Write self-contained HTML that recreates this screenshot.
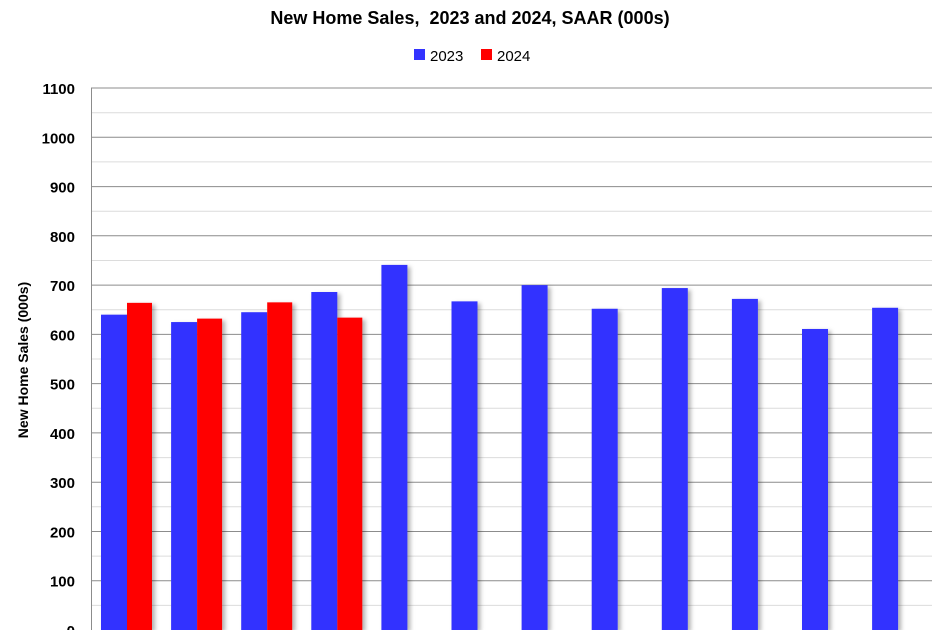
<!DOCTYPE html>
<html><head><style>body{margin:0;background:#fff}svg{display:block;font-family:"Liberation Sans",Arial,sans-serif}</style></head><body>
<svg width="941" height="630" xmlns="http://www.w3.org/2000/svg">
<defs><filter id="sh" x="-20%" y="-5%" width="150%" height="120%"><feDropShadow dx="3" dy="2" stdDeviation="2" flood-color="#000" flood-opacity="0.3"/></filter></defs>
<text x="470" y="24" text-anchor="middle" font-size="18" font-weight="bold" fill="#000">New Home Sales,&#160; 2023 and 2024, SAAR (000s)</text>
<rect x="414" y="49" width="11" height="11" fill="#3333ff"/><text x="430" y="61" font-size="15">2023</text>
<rect x="481" y="49" width="11" height="11" fill="#ff0000"/><text x="497" y="61" font-size="15">2024</text>
<g id="g"></g>
<text transform="translate(28,360) rotate(-90)" text-anchor="middle" font-size="14" font-weight="bold">New Home Sales (000s)</text>
</svg>
<script>
const g=document.getElementById('g');let s='';
const Y=v=>630-v*0.4927;
for(let v=50;v<=1100;v+=50){const y=Y(v).toFixed(1);s+=`<line x1="91" x2="932" y1="${y}" y2="${y}" stroke="${v%100?'#dcdcdc':'#8c8c8c'}" stroke-width="1"/>`;if(v%100==0)s+=`<text x="75" y="${(+y+6)}" text-anchor="end" font-size="15" font-weight="bold">${v}</text>`;}
s+=`<text x="75" y="636" text-anchor="end" font-size="15" font-weight="bold">0</text>`;
s+=`<line x1="91.5" x2="91.5" y1="88" y2="630" stroke="#8c8c8c"/>`;
const a=[640,625,645,686,741,667,700,652,694,672,611,654],b=[664,632,665,634];
a.forEach((v,i)=>{const x=91+i*70.1;s+=`<rect x="${x+10}" y="${Y(v)}" width="26" height="${630-Y(v)}" fill="#3333ff" filter="url(#sh)"/>`;if(b[i])s+=`<rect x="${x+36}" y="${Y(b[i])}" width="25" height="${630-Y(b[i])}" fill="#ff0000" filter="url(#sh)"/>`;});
g.innerHTML=s;
</script>
</body></html>
